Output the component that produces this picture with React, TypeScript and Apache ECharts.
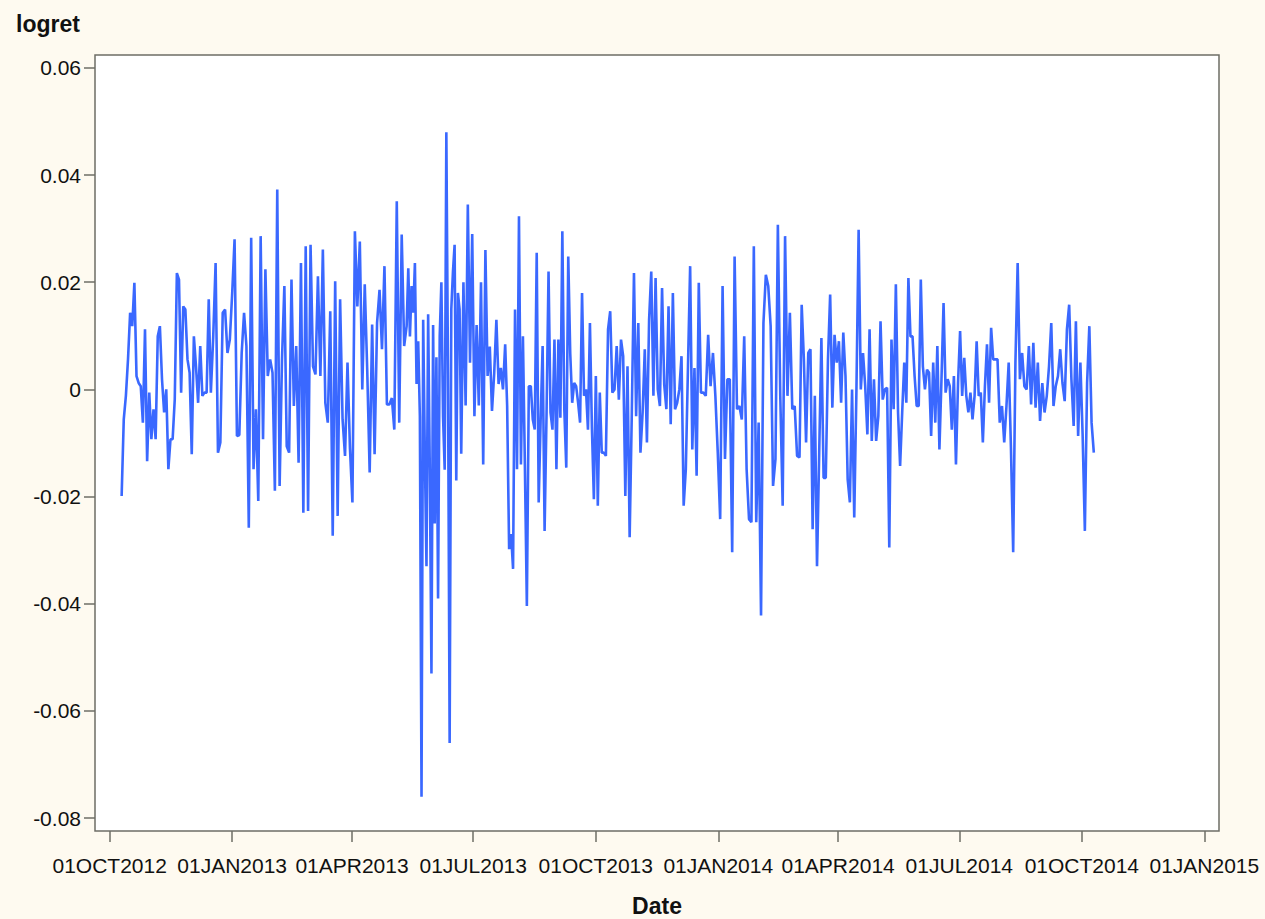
import React, { useEffect, useRef } from 'react';
import * as echarts from 'echarts';

// logret values (x 1000) in consecutive date segments
const segStarts = [
  '2012-10-10', '2012-12-16', '2013-02-27', '2013-05-12', '2013-06-22', '2013-07-25',
  '2013-10-07', '2013-12-19', '2014-03-03', '2014-05-16', '2014-07-28',
];
const seriesEnd = '2014-10-10';

const seg01 = [-19.9, -5.6, -1.2, 5.6, 14.3, 11.8, 19.9, 2.5, 1.2, 0.6, -6.2, 11.2, -13.4, -0.6, -9.3, -3.7, -9.3, 9.9, 11.8, 1.9, -4.3, 0, -14.9, -9.3, -9.3, -1.9, 21.7, 20.5, -0.6, 15.5, 14.9, 5.6, 3.1, -12.1, 9.9, 4.3, -2.5, 8.1, -1.2, -0.6, -0.6, 16.8];
const seg02 = [-0.6, 9.9, 23.6, -11.8, -9.9, 14.3, 14.9, 6.8, 9.3, 18.0, 28.0, -8.7, -8.5, 6.8, 14.3, 8.1, -25.8, 28.3, -14.9, -3.7, -20.8, 28.6, -9.3, 22.4, 2.5, 5.6, 3.1, -18.9, 37.3, -18.0, 5.6, 19.3, -10.6, -11.8, 20.5, -3.1, 8.1, -13.7, 23.6, -23.0, 26.7];
const seg03 = [-22.7, 27.0, 4.3, 2.8, 21.1, 2.5, 26.1, -2.5, -6.2, 14.6, -27.3, 20.2, -23.6, 16.8, -5.6, -12.4, 5.0, -11, -21.1, 29.5, 15.5, 27.6, 0, 19.6, 3.7, -15.5, 12.1, -12.1, 12.4, 18.6, 7.5, 23.0, -2.8, -2.8, -1.6, -7.5, 35.1, -6.2, 28.9, 8.1];
const seg04 = [11.8, 22.6, 9.9, 19.3, 14.3, 23.6, 1, 9, -5, -76, 13, -12, -33, 14, -15, -53, 12, -25, 6, -39, 10, 20, -5, -15, 48, 3, -66, 15, 22, 27, -17, 18, 15];
const seg05 = [-12, 20, -3, 34.5, 5, 29, -5, 12, -3, 20, -14, 26, 2.5, 8, -4, 3, 13, 1, 4, 0];
const seg06 = [8.4, -3.1, -29.8, -27, -33.5, 14.9, -14.9, 32.3, -14, 9.9, -14.3, -40.4, 0.6, 0.6, -5.6, -7.5, 25.5, -21.1, -5.6, 8.1, -26.4, -4.3, 22, -4.3, -7.5, 9.3, -14.9, 9.3, -5.3, 29.5, -3.7, -14.6, 24.8, 6.8, -2.5, 1.2, 0.6, -2.5, -6.2, 18, -1.2, 0, -7.5, 12.4, -7.1, -20.5, 2.5, -21.7, -0.6, -11.8];
const seg07 = [-11.8, -12.4, 11.2, 14.6, -0.6, 0, 8.1, -1.9, 9.3, 6.2, -19.9, 4.3, -27.6, -4.3, 21.7, -5, 12.4, -11.8, -4.3, 7.5, -9.9, 13, 22, -1.2, 20.8, 0, -3.1, 18.9, 0.9, -3.7, 15.5, -6.5, 18, -3.7, -2.5, 0, 6.2, -21.7, -14.9, 4.3, 23, -11.2, 4.0, -16.1, 19.9];
const seg08 = [-0.6, -0.6, -1.2, 10.2, 0.6, 6.8, -1.2, -11.8, -24.2, 19.3, -13, 1.9, 1.9, -30.4, 24.8, -3.7, -3.1, -5.6, 9.9, -14.9, -24.2, -24.8, 26.7, -24.8, -6.2, -42.2, 12.4, 21.4, 19.3, 11.8, -18, -13, 30.7, -1.2, -21.7, 28.6, -1.2, 14.3, -3.7, -3.1, -12.4];
const seg09 = [-12.7, 15.8, 5.6, -9.9, 6.8, 7.5, -26.1, -1.2, -33, -11.8, 9.6, -16.5, -16.5, 5.6, 17.7, -3.4, 10.2, 5.0, 9.0, -2.5, 10.6, 2.5, -16.8, -21.1, 0, -23.9, 0, 29.8, 0, 6.8, 0.6, -8.4, 11.2, -9.6, 1.9, -9.6, -5, 12.7, -1.9, 0, 0.3, -29.5, 9.3, -3.7, 19.6];
const seg10 = [-4.3, -14.3, -4.3, 5.0, -2.5, 20.8, 9.9, 9.9, 2.5, -3.1, -3.1, 20.5, 4.3, 0, 3.7, 3.1, -8.7, 5.0, -6.2, 8.1, -11.2, 1.9, 16.1, -0.6, 1.9, 0.6, -7.5, 2.5, -14, 1.2, 10.9, -1.2, 5.9, -1.2, -4.3, -0.6, -5.6, -1.2, 9.0, -1.2, -0.6, -9.9, 0.6, 8.4, -2.5, 11.5, 5.6];
const seg11 = [5.6, 5.6, -6.2, -3.1, -9.9, -3.1, 5.0, -10.9, -30.4, 5.0, 23.6, 1.9, 6.8, 0.6, 0, 8.1, -2.8, 8.7, -3.4, 5.0, -5.9, 1.2, -4.3, -1.2, 4.3, 12.4, -3.1, 0.6, 2.5, 7.5, 1.2, -2.2, 11.2, 15.8, 1.9, -6.8, 12.7, -8.7, 5.0, -8.4, -26.4, 1.2, 11.8, -6.2, -11.8];
const segments = [seg01, seg02, seg03, seg04, seg05, seg06, seg07, seg08, seg09, seg10, seg11];

const xTickDates = [
  '2012-10-01', '2013-01-01', '2013-04-01', '2013-07-01', '2013-10-01',
  '2014-01-01', '2014-04-01', '2014-07-01', '2014-10-01', '2015-01-01',
];
const xMinDate = '2012-09-20';
const xMaxDate = '2015-01-12';
const yTicks = [-0.08, -0.06, -0.04, -0.02, 0, 0.02, 0.04, 0.06];
const yMin = -0.0824;
const yMax = 0.0624;
const MONTHS = ['JAN', 'FEB', 'MAR', 'APR', 'MAY', 'JUN', 'JUL', 'AUG', 'SEP', 'OCT', 'NOV', 'DEC'];

function ts(s: string): number {
  const [y, m, d] = s.split('-').map(Number);
  return Date.UTC(y, m - 1, d);
}

function buildData(): [number, number][] {
  const out: [number, number][] = [];
  segments.forEach((seg, k) => {
    const t0 = ts(segStarts[k]);
    const last = k === segments.length - 1;
    const t1 = last ? ts(seriesEnd) : ts(segStarts[k + 1]);
    const n = seg.length;
    seg.forEach((v, i) => {
      const f = last ? i / (n - 1) : i / n;
      out.push([t0 + (t1 - t0) * f, v / 1000]);
    });
  });
  return out;
}

const FONT = '"Liberation Sans", Arial, Helvetica, sans-serif';
const FRAME = '#6e6e66';

export default function App() {
  const ref = useRef<HTMLDivElement>(null);
  useEffect(() => {
    if (!ref.current) return;
    const chart = echarts.init(ref.current, null, { renderer: 'svg' });
    const xTicks = xTickDates.map(ts);
    chart.setOption({
      animation: false,
      backgroundColor: '#fefaf0',
      textStyle: { fontFamily: FONT },
      title: {
        text: 'logret',
        left: 11,
        top: 7,
        textStyle: { fontSize: 23, fontWeight: 'bold', color: '#111', fontFamily: FONT },
      },
      grid: {
        left: 95,
        right: 46,
        top: 55,
        bottom: 88,
        show: true,
        backgroundColor: '#ffffff',
        borderColor: FRAME,
        borderWidth: 1.5,
        containLabel: false,
        outerBoundsMode: 'none',
      },
      xAxis: {
        type: 'value',
        min: ts(xMinDate),
        max: ts(xMaxDate),
        axisLine: { show: false, onZero: false },
        splitLine: { show: false },
        axisTick: { show: true, length: 11, lineStyle: { color: FRAME, width: 1.5 }, customValues: xTicks },
        axisLabel: {
          customValues: xTicks,
          fontSize: 21,
          color: '#111',
          margin: 24,
          fontFamily: FONT,
          formatter: (v: number) => {
            const d = new Date(v);
            return String(d.getUTCDate()).padStart(2, '0') + MONTHS[d.getUTCMonth()] + d.getUTCFullYear();
          },
        },
        name: 'Date',
        nameLocation: 'middle',
        nameGap: 63,
        nameTextStyle: { fontSize: 23, fontWeight: 'bold', color: '#111', fontFamily: FONT },
      },
      yAxis: {
        type: 'value',
        min: yMin,
        max: yMax,
        axisLine: { show: false, onZero: false },
        splitLine: { show: false },
        axisTick: { show: true, length: 11, lineStyle: { color: FRAME, width: 1.5 }, customValues: yTicks },
        axisLabel: {
          customValues: yTicks,
          fontSize: 21,
          color: '#111',
          margin: 14,
          fontFamily: FONT,
          formatter: (v: number) => (v === 0 ? '0' : v.toFixed(2)),
        },
      },
      series: [
        {
          type: 'line',
          data: buildData(),
          showSymbol: false,
          symbol: 'none',
          silent: true,
          lineStyle: { color: '#3a68ff', width: 2.6 },
          itemStyle: { color: '#3a68ff' },
        },
      ],
    });
    return () => chart.dispose();
  }, []);
  return (
    <div
      ref={ref}
      style={{ position: 'absolute', left: 0, top: 0, width: 1265, height: 919, background: '#fefaf0' }}
    />
  );
}
